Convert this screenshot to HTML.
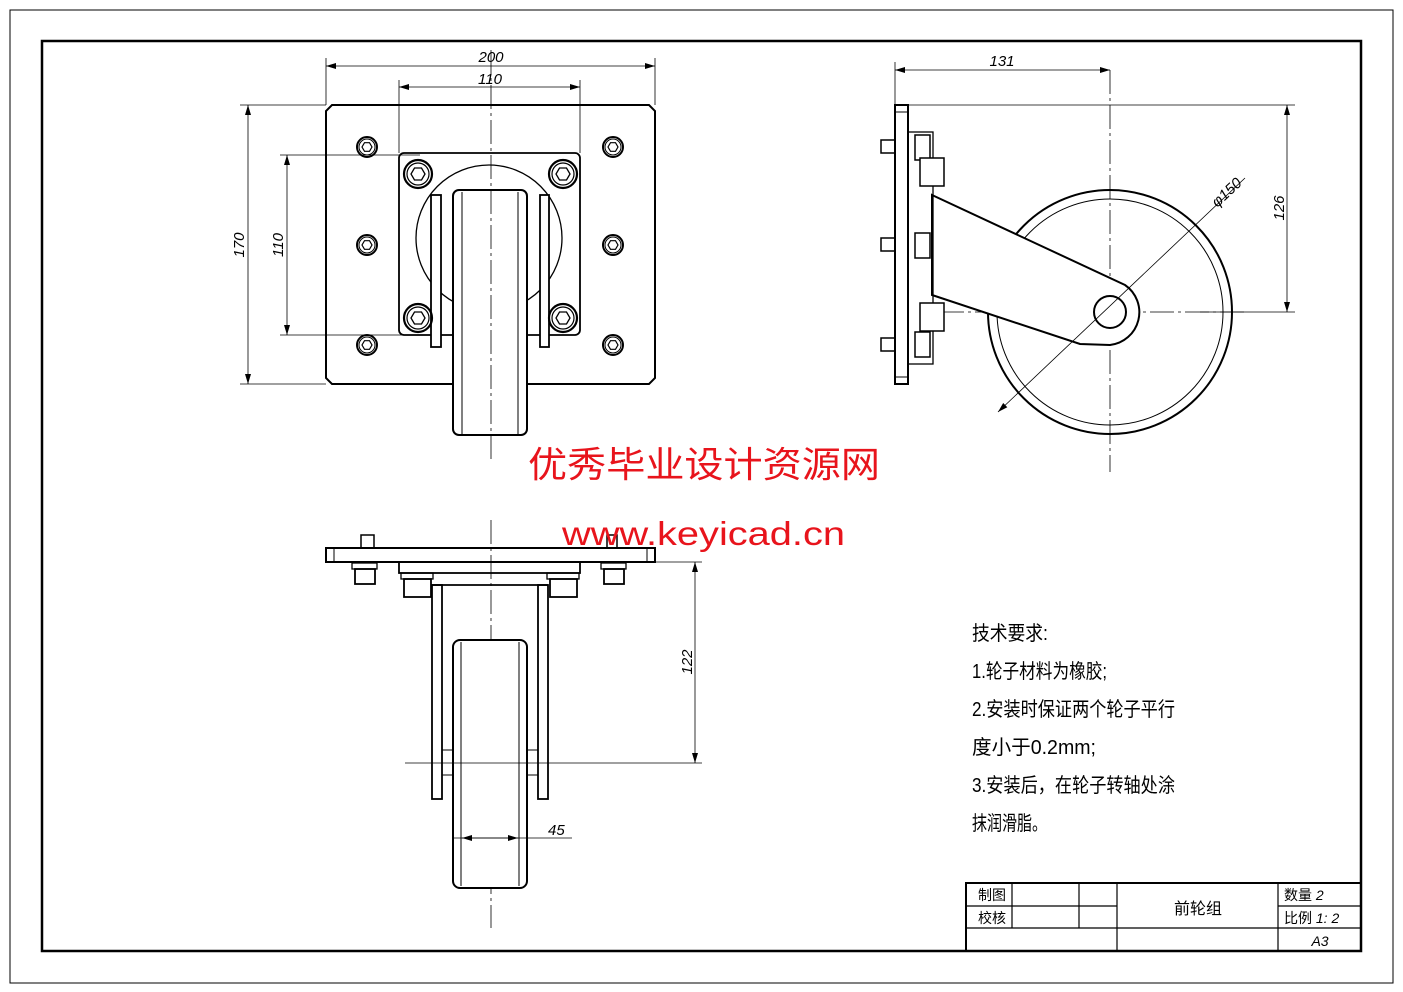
<!DOCTYPE html>
<html><head><meta charset="utf-8"><style>
html,body{margin:0;padding:0;background:#fff;}
svg{display:block;}
text{font-family:"Liberation Sans","Noto Sans CJK SC",sans-serif;}
</style></head><body>
<svg width="1403" height="992" viewBox="0 0 1403 992" xmlns="http://www.w3.org/2000/svg">
<defs>
<marker id="ar" viewBox="0 0 10 6" refX="10" refY="3" markerWidth="10" markerHeight="6" orient="auto-start-reverse" markerUnits="userSpaceOnUse"><path d="M0,0 L10,3 L0,6 z" fill="#000"/></marker>
<g id="nut"><circle r="10" fill="none" stroke="#000" stroke-width="2"/><circle r="8" fill="none" stroke="#000" stroke-width="1"/><polygon points="5,0 2.5,4.3 -2.5,4.3 -5,0 -2.5,-4.3 2.5,-4.3" fill="none" stroke="#000" stroke-width="1.2"/></g>
<g id="bolt"><circle r="14" fill="none" stroke="#000" stroke-width="2.2"/><circle r="11" fill="none" stroke="#000" stroke-width="1.2"/><polygon points="7,0 3.5,6 -3.5,6 -7,0 -3.5,-6 3.5,-6" fill="none" stroke="#000" stroke-width="1.3"/></g>
</defs>
<rect x="10" y="10" width="1383" height="973" fill="none" stroke="#000" stroke-width="1"/>
<rect x="42" y="41" width="1319" height="910" fill="none" stroke="#000" stroke-width="2.5"/>

<g stroke="#000" fill="none">
<!-- TOP VIEW -->
<path d="M332,105 H649 L655,111 V378 L649,384 H332 L326,378 V111 Z" stroke-width="2"/>
<rect x="399" y="153" width="181" height="182" rx="5" stroke-width="1.8"/>
<circle cx="489" cy="238" r="73" stroke-width="1.3"/>
<rect x="453" y="190" width="74" height="245" rx="6" fill="#fff" stroke-width="2"/>
<line x1="462" y1="192" x2="462" y2="434" stroke-width="1"/>
<line x1="518" y1="192" x2="518" y2="434" stroke-width="1"/>
<rect x="431" y="195" width="10" height="152" fill="#fff" stroke-width="1.8"/>
<rect x="540" y="195" width="9" height="152" fill="#fff" stroke-width="1.8"/>
<use href="#nut" x="367" y="147"/><use href="#nut" x="367" y="245"/><use href="#nut" x="367" y="345"/>
<use href="#nut" x="613" y="147"/><use href="#nut" x="613" y="245"/><use href="#nut" x="613" y="345"/>
<use href="#bolt" x="418" y="174"/><use href="#bolt" x="563" y="174"/><use href="#bolt" x="418" y="318"/><use href="#bolt" x="563" y="318"/>
<line x1="491" y1="50" x2="491" y2="460" stroke-width="0.8" stroke-dasharray="24,4,3,4"/>
<g stroke-width="0.8">
<line x1="326" y1="58" x2="326" y2="105"/><line x1="655" y1="58" x2="655" y2="105"/>
<line x1="326" y1="66" x2="655" y2="66" marker-start="url(#ar)" marker-end="url(#ar)"/>
<line x1="399" y1="80" x2="399" y2="153"/><line x1="580" y1="80" x2="580" y2="153"/>
<line x1="399" y1="87" x2="580" y2="87" marker-start="url(#ar)" marker-end="url(#ar)"/>
<line x1="240" y1="105" x2="326" y2="105"/><line x1="240" y1="384" x2="326" y2="384"/>
<line x1="248" y1="105" x2="248" y2="384" marker-start="url(#ar)" marker-end="url(#ar)"/>
<line x1="280" y1="155" x2="420" y2="155"/><line x1="280" y1="335" x2="420" y2="335"/>
<line x1="287" y1="155" x2="287" y2="335" marker-start="url(#ar)" marker-end="url(#ar)"/>
</g>

<!-- SIDE VIEW -->
<line x1="1110" y1="70" x2="1110" y2="472" stroke-width="0.8" stroke-dasharray="24,4,3,4"/>
<line x1="940" y1="312" x2="1245" y2="312" stroke-width="0.8" stroke-dasharray="24,4,3,4"/>
<circle cx="1110" cy="312" r="122" stroke-width="2"/>
<circle cx="1110" cy="312" r="113" stroke-width="1"/>
<path d="M932,195 L1125,285 A33,33 0 0 1 1110,345 L1080,344 L932,295 Z" fill="#fff" stroke-width="2"/>
<circle cx="1110" cy="312" r="16" stroke-width="2"/>
<rect x="895" y="105" width="13" height="279" fill="#fff" stroke-width="2"/>
<line x1="895" y1="112" x2="908" y2="112" stroke-width="1"/><line x1="895" y1="377" x2="908" y2="377" stroke-width="1"/>
<rect x="908" y="132" width="25" height="232" stroke-width="1.3"/>
<rect x="915" y="135" width="15" height="25" stroke-width="1.5"/>
<rect x="920" y="158" width="24" height="28" fill="#fff" stroke-width="1.5"/>
<rect x="915" y="233" width="15" height="25" stroke-width="1.5"/>
<rect x="920" y="303" width="24" height="28" fill="#fff" stroke-width="1.5"/>
<rect x="915" y="332" width="15" height="25" stroke-width="1.5"/>
<rect x="881" y="140" width="14" height="13" stroke-width="1.5"/>
<rect x="881" y="238" width="14" height="13" stroke-width="1.5"/>
<rect x="881" y="338" width="14" height="13" stroke-width="1.5"/>
<g stroke-width="0.8">
<line x1="998" y1="412" x2="1245" y2="178" marker-start="url(#ar)"/>
<line x1="895" y1="62" x2="895" y2="105"/>
<line x1="895" y1="70" x2="1110" y2="70" marker-start="url(#ar)" marker-end="url(#ar)"/>
<line x1="908" y1="105" x2="1295" y2="105"/><line x1="1200" y1="312" x2="1295" y2="312"/>
<line x1="1287" y1="105" x2="1287" y2="312" marker-start="url(#ar)" marker-end="url(#ar)"/>
</g>

<!-- FRONT (BOTTOM) VIEW -->
<line x1="491" y1="520" x2="491" y2="928" stroke-width="0.8" stroke-dasharray="24,4,3,4"/>
<rect x="361" y="535" width="13" height="13" stroke-width="1.5"/>
<rect x="607" y="535" width="10" height="13" stroke-width="1.5"/>
<rect x="326" y="548" width="329" height="14" stroke-width="2"/>
<line x1="334" y1="548" x2="334" y2="562" stroke-width="1"/><line x1="647" y1="548" x2="647" y2="562" stroke-width="1"/>
<rect x="399" y="562" width="181" height="11" stroke-width="1.8"/>
<rect x="352" y="563" width="25" height="6" stroke-width="1.3"/><rect x="355" y="569" width="20" height="15" stroke-width="1.8"/>
<rect x="601" y="563" width="25" height="6" stroke-width="1.3"/><rect x="604" y="569" width="20" height="15" stroke-width="1.8"/>
<rect x="401" y="573" width="32" height="6" stroke-width="1.3"/><rect x="404" y="579" width="27" height="18" stroke-width="1.8"/>
<rect x="547" y="573" width="32" height="6" stroke-width="1.3"/><rect x="550" y="579" width="27" height="18" stroke-width="1.8"/>
<line x1="432" y1="585" x2="548" y2="585" stroke-width="1.8"/>
<rect x="432" y="585" width="10" height="214" stroke-width="1.8"/>
<rect x="538" y="585" width="10" height="214" stroke-width="1.8"/>
<rect x="453" y="640" width="74" height="248" rx="7" fill="#fff" stroke-width="2"/>
<line x1="461" y1="642" x2="461" y2="886" stroke-width="1"/><line x1="519" y1="642" x2="519" y2="886" stroke-width="1"/>
<line x1="442" y1="750" x2="453" y2="750" stroke-width="1"/><line x1="527" y1="750" x2="538" y2="750" stroke-width="1"/>
<line x1="442" y1="775" x2="453" y2="775" stroke-width="1"/><line x1="527" y1="775" x2="538" y2="775" stroke-width="1"/>
<g stroke-width="0.8">
<line x1="405" y1="763" x2="702" y2="763"/>
<line x1="655" y1="562" x2="702" y2="562"/>
<line x1="695" y1="562" x2="695" y2="763" marker-start="url(#ar)" marker-end="url(#ar)"/>
<line x1="453" y1="838" x2="572" y2="838"/>
<line x1="462" y1="838" x2="518" y2="838" marker-start="url(#ar)" marker-end="url(#ar)"/>
</g>

<!-- TITLE BLOCK -->
<rect x="966" y="883" width="395" height="68" stroke-width="2"/>
<g stroke-width="1.2">
<line x1="1012" y1="883" x2="1012" y2="928"/><line x1="1079" y1="883" x2="1079" y2="928"/>
<line x1="1117" y1="883" x2="1117" y2="951"/><line x1="1278" y1="883" x2="1278" y2="951"/>
<line x1="966" y1="906" x2="1117" y2="906"/><line x1="966" y1="928" x2="1117" y2="928"/>
<line x1="1117" y1="928" x2="1361" y2="928"/><line x1="1278" y1="906" x2="1361" y2="906"/>
</g>
</g>

<g font-size="15" fill="#000" font-style="italic">
<text x="491" y="62" text-anchor="middle">200</text>
<text x="490" y="84" text-anchor="middle">110</text>
<text transform="translate(244,245) rotate(-90)" text-anchor="middle">170</text>
<text transform="translate(283,245) rotate(-90)" text-anchor="middle">110</text>
<text x="1002" y="66" text-anchor="middle">131</text>
<text transform="translate(1284,208) rotate(-90)" text-anchor="middle">126</text>
<text transform="translate(1230,196) rotate(-43)" text-anchor="middle">φ150</text>
<text transform="translate(692,662) rotate(-90)" text-anchor="middle">122</text>
<text x="548" y="835">45</text>
</g>

<text x="528" y="477" font-size="36" fill="#e8141c" font-family="'Liberation Serif','Noto Serif CJK SC',serif" textLength="352" lengthAdjust="spacingAndGlyphs">优秀毕业设计资源网</text>
<text x="562" y="545" font-size="33" fill="#e8141c" font-family="'Liberation Mono',monospace" textLength="283" lengthAdjust="spacingAndGlyphs">www.keyicad.cn</text>

<g font-size="20" fill="#000">
<text x="972" y="640" textLength="76" lengthAdjust="spacingAndGlyphs">技术要求:</text>
<text x="972" y="678" textLength="135" lengthAdjust="spacingAndGlyphs">1.轮子材料为橡胶;</text>
<text x="972" y="716" textLength="203" lengthAdjust="spacingAndGlyphs">2.安装时保证两个轮子平行</text>
<text x="972" y="754" textLength="124" lengthAdjust="spacingAndGlyphs">度小于0.2mm;</text>
<text x="972" y="792" textLength="203" lengthAdjust="spacingAndGlyphs">3.安装后，在轮子转轴处涂</text>
<text x="972" y="830" textLength="75" lengthAdjust="spacingAndGlyphs">抹润滑脂。</text>
</g>
<g font-size="14" fill="#000">
<text x="978" y="900">制图</text>
<text x="978" y="923">校核</text>
<text x="1198" y="914" text-anchor="middle" font-size="16">前轮组</text>
<text x="1284" y="900">数量 <tspan font-style="italic">2</tspan></text>
<text x="1284" y="923">比例 <tspan font-style="italic">1: 2</tspan></text>
<text x="1320" y="946" text-anchor="middle" font-style="italic">A3</text>
</g>
</svg>
</body></html>
